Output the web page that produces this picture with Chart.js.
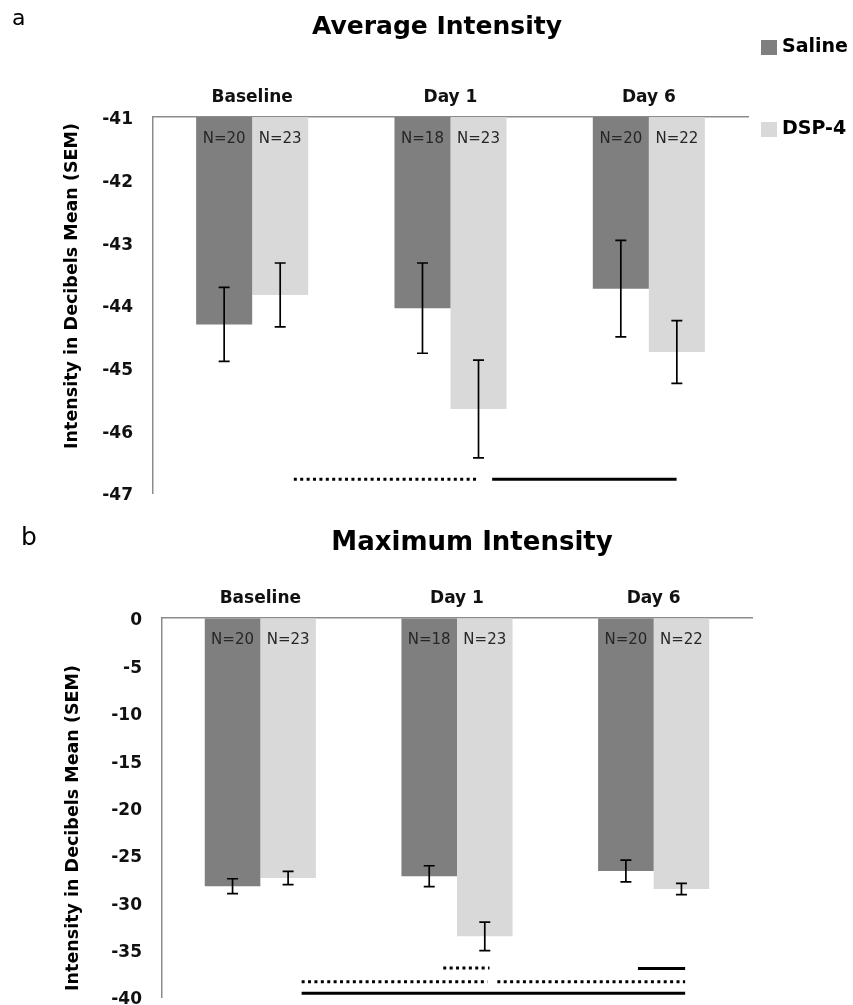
<!DOCTYPE html>
<html>
<head>
<meta charset="utf-8">
<title>Average and Maximum Intensity</title>
<script src="https://cdn.jsdelivr.net/npm/chart.js@4/dist/chart.umd.min.js"></script>
<style>
  body { margin: 0; background: #fff; overflow: hidden; }
  .panel { position: absolute; left: 0; width: 853px; }
  #avgBox { top: 0; height: 515px; }
  #maxBox { top: 500px; height: 505px; }
</style>
</head>
<body>
<div class="panel" id="avgBox"><canvas id="avgChart" width="853" height="515"></canvas></div>
<div class="panel" id="maxBox"><canvas id="maxChart" width="853" height="505"></canvas></div>
<script>
const categories = ["Baseline", "Day 1", "Day 6"];
const groups = ["Saline", "DSP-4"];
const groupColors = ["#7f7f7f", "#d9d9d9"];

// average intensity, dB (mean and SEM)
const avgSaline = [-44.31, -44.05, -43.74];
const avgSalineSem = [0.59, 0.72, 0.77];
const avgDsp = [-43.84, -45.66, -44.75];
const avgDspSem = [0.51, 0.78, 0.50];

// maximum intensity, dB (mean and SEM)
const maxSaline = [-28.3, -27.25, -26.7];
const maxSalineSem = [0.78, 1.1, 1.15];
const maxDsp = [-27.45, -33.6, -28.6];
const maxDspSem = [0.7, 1.5, 0.6];

const nSaline = [20, 18, 20];
const nDsp = [23, 23, 22];

// significance bars: from/to in category index units, y in dB
const avgComparisons = [
    { from: 0.21, to: 1.14, y: -46.78, dashed: true },
    { from: 1.21, to: 2.14, y: -46.78, dashed: false },
];
const maxComparisons = [
    { from: 0.93, to: 1.165, y: -36.95, dashed: true },
    { from: 1.92, to: 2.16, y: -37.0, dashed: false },
    { from: 0.21, to: 1.155, y: -38.4, dashed: true },
    { from: 1.205, to: 2.16, y: -38.4, dashed: true },
    { from: 0.21, to: 2.16, y: -39.6, dashed: false },
];

const FONT = "'DejaVu Sans'";

const errorBars = {
    id: "errorBars",
    afterDatasetsDraw(chart) {
        const { ctx } = chart;
        const yScale = chart.scales.y;
        ctx.save();
        ctx.strokeStyle = "#000";
        ctx.lineWidth = 1.7;
        chart.data.datasets.forEach((ds, i) => {
            chart.getDatasetMeta(i).data.forEach((bar, j) => {
                const hi = yScale.getPixelForValue(ds.data[j] + ds.sem[j]);
                const lo = yScale.getPixelForValue(ds.data[j] - ds.sem[j]);
                ctx.beginPath();
                ctx.moveTo(bar.x, hi);
                ctx.lineTo(bar.x, lo);
                ctx.moveTo(bar.x - 5.5, hi);
                ctx.lineTo(bar.x + 5.5, hi);
                ctx.moveTo(bar.x - 5.5, lo);
                ctx.lineTo(bar.x + 5.5, lo);
                ctx.stroke();
            });
        });
        ctx.restore();
    },
};

const countLabels = {
    id: "countLabels",
    afterDatasetsDraw(chart) {
        const { ctx } = chart;
        const yScale = chart.scales.y;
        const top = yScale.getPixelForValue(yScale.max);
        ctx.save();
        ctx.font = "15px " + FONT;
        ctx.fillStyle = "#262626";
        ctx.textAlign = "center";
        ctx.textBaseline = "middle";
        chart.data.datasets.forEach((ds, i) => {
            chart.getDatasetMeta(i).data.forEach((bar, j) => {
                ctx.fillText("N=" + ds.counts[j], bar.x, top + 22);
            });
        });
        ctx.restore();
    },
};

const comparisons = {
    id: "comparisons",
    afterDraw(chart, args, opts) {
        const { ctx } = chart;
        const xScale = chart.scales.x;
        const yScale = chart.scales.y;
        const x0 = xScale.getPixelForValue(0);
        const step = xScale.getPixelForValue(1) - x0;
        ctx.save();
        ctx.strokeStyle = "#000";
        ctx.lineWidth = 3;
        opts.lines.forEach((ln) => {
            const y = yScale.getPixelForValue(ln.y);
            ctx.setLineDash(ln.dashed ? [3, 3.4] : []);
            ctx.beginPath();
            ctx.moveTo(x0 + ln.from * step, y);
            ctx.lineTo(x0 + ln.to * step, y);
            ctx.stroke();
        });
        ctx.restore();
    },
};

const panelText = {
    id: "panelText",
    afterDraw(chart, args, opts) {
        const { ctx } = chart;
        ctx.save();
        ctx.fillStyle = "#000";

        ctx.font = opts.letterSize + "px " + FONT;
        ctx.textAlign = "left";
        ctx.textBaseline = "alphabetic";
        ctx.fillText(opts.letter, opts.letterX, opts.letterY);

        ctx.font = "bold " + opts.titleSize + "px " + FONT;
        ctx.textAlign = "center";
        ctx.textBaseline = "middle";
        ctx.fillText(opts.title, opts.titleX, opts.titleY);

        ctx.translate(opts.axisX, opts.axisY);
        ctx.rotate(-Math.PI / 2);
        ctx.font = "bold 17.5px " + FONT;
        ctx.fillText("Intensity in Decibels Mean (SEM)", 0, 0);
        ctx.restore();

        if (opts.legend) {
            ctx.save();
            ctx.font = "bold 19px " + FONT;
            ctx.textAlign = "left";
            ctx.textBaseline = "middle";
            chart.data.datasets.forEach((ds, i) => {
                const cy = 47 + i * 82;
                ctx.fillStyle = ds.backgroundColor;
                ctx.fillRect(761, cy - 7, 16, 15);
                ctx.fillStyle = "#000";
                ctx.fillText(ds.label, 782, cy);
            });
            ctx.restore();
        }
    },
};

function crearPanel(id, cfg) {
    return new Chart(document.getElementById(id), {
        type: "bar",
        data: {
            labels: categories,
            datasets: [
                { label: groups[0], data: cfg.saline, sem: cfg.salineSem, counts: nSaline, backgroundColor: groupColors[0] },
                { label: groups[1], data: cfg.dsp, sem: cfg.dspSem, counts: nDsp, backgroundColor: groupColors[1] },
            ],
        },
        options: {
            responsive: false,
            animation: false,
            datasets: { bar: { categoryPercentage: 0.565, barPercentage: 1, borderWidth: 0 } },
            layout: { padding: cfg.padding },
            plugins: {
                legend: { display: false },
                tooltip: { enabled: false },
                comparisons: { lines: cfg.lines },
                panelText: cfg.text,
            },
            scales: {
                x: {
                    position: "top",
                    grid: { display: false, drawTicks: false },
                    border: { display: true, color: "#8c8c8c", width: 1.5 },
                    ticks: { padding: 9, color: "#111", font: { family: "DejaVu Sans", weight: "bold", size: 17 } },
                    afterFit(scale) { scale.height = cfg.top; },
                },
                y: {
                    min: cfg.min,
                    max: cfg.max,
                    // invisible tick marks keep the labels clear of the axis line
                    grid: { display: true, drawOnChartArea: false, drawTicks: true, tickLength: 20, color: "rgba(0,0,0,0)" },
                    border: { display: true, color: "#8c8c8c", width: 1.5 },
                    ticks: { stepSize: cfg.step, padding: 0, labelOffset: 3, color: "#111", font: { family: "DejaVu Sans", weight: "bold", size: 17, lineHeight: 0.9 } },
                    afterFit(scale) { scale.width = cfg.left; },
                },
            },
        },
        plugins: [errorBars, countLabels, comparisons, panelText],
    });
}

crearPanel("avgChart", {
    saline: avgSaline, salineSem: avgSalineSem, dsp: avgDsp, dspSem: avgDspSem,
    min: -47, max: -41, step: 1,
    left: 153, top: 117, padding: { left: 0, top: 0, right: 105, bottom: 22 },
    lines: avgComparisons,
    text: { letter: "a", letterSize: 22, letterX: 12, letterY: 25, title: "Average Intensity", titleSize: 25, titleX: 437, titleY: 27, axisX: 72, axisY: 286, legend: true },
});

crearPanel("maxChart", {
    saline: maxSaline, salineSem: maxSalineSem, dsp: maxDsp, dspSem: maxDspSem,
    min: -40, max: 0, step: 5,
    left: 162, top: 118, padding: { left: 0, top: 0, right: 101, bottom: 8 },
    lines: maxComparisons,
    text: { letter: "b", letterSize: 25, letterX: 21, letterY: 45, title: "Maximum Intensity", titleSize: 26, titleX: 472, titleY: 43, axisX: 73, axisY: 328, legend: false },
});
</script>
</body>
</html>
